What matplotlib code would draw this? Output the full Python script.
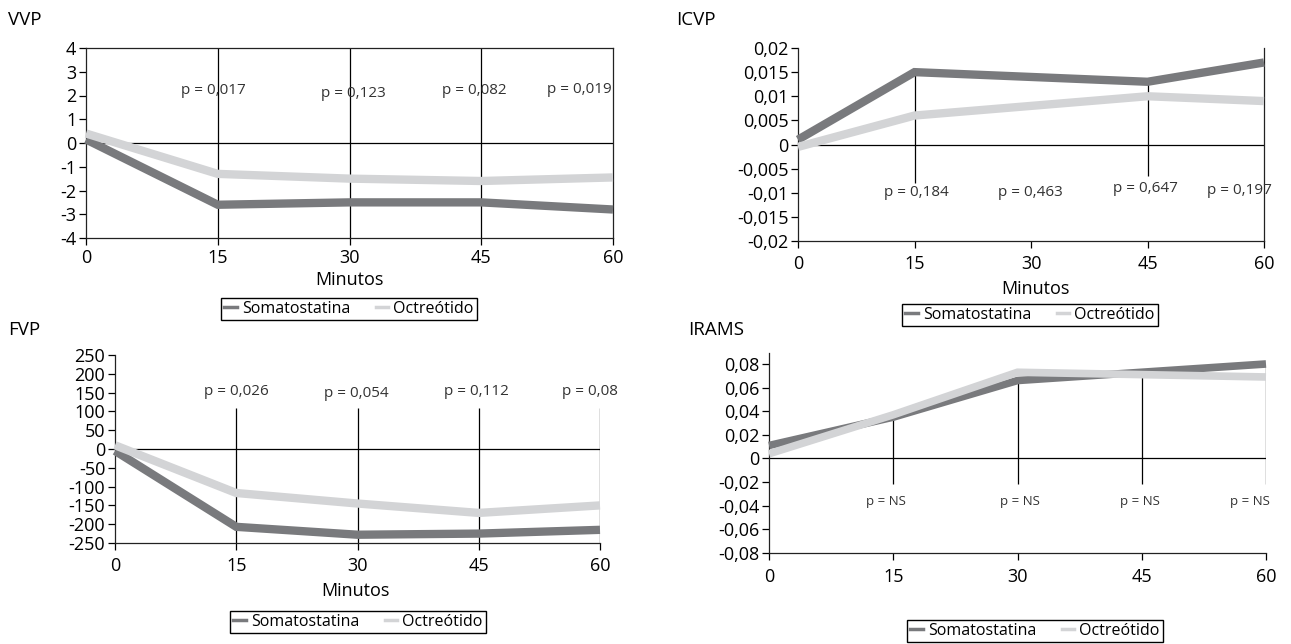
import numpy as np
import matplotlib
matplotlib.use('Agg')
import matplotlib.pyplot as plt
from matplotlib.lines import Line2D

plt.rcParams['font.family'] = ['Open Sans', 'DejaVu Sans']
plt.rcParams['font.size'] = 10

W, H = 1291, 644

minutos = [0, 15, 30, 45, 60]
x_labels = ['0', '15', '30', '45', '60']
series_names = ['Somatostatina', 'Octreótido']

# VVP
vvp_soma = [0.15, -2.6, -2.5, -2.5, -2.8]
vvp_octr = [0.4, -1.3, -1.5, -1.6, -1.45]
vvp_p = ['p = 0,017', 'p = 0,123', 'p = 0,082', 'p = 0,019']
vvp_yticks = [-4, -3, -2, -1, 0, 1, 2, 3, 4]

# ICVP
icvp_soma = [0.001, 0.015, 0.014, 0.013, 0.017]
icvp_octr = [-0.0005, 0.006, 0.008, 0.010, 0.009]
icvp_p = ['p = 0,184', 'p = 0,463', 'p = 0,647', 'p = 0,197']
icvp_yticks = [-0.02, -0.015, -0.01, -0.005, 0, 0.005, 0.01, 0.015, 0.02]

# FVP
fvp_soma = [-5, -207, -228, -225, -215]
fvp_octr = [10, -117, -145, -170, -150]
fvp_p = ['p = 0,026', 'p = 0,054', 'p = 0,112', 'p = 0,08']
fvp_yticks = [-250, -200, -150, -100, -50, 0, 50, 100, 150, 200, 250]

# IRAMS
irams_soma = [0.011, 0.035, 0.066, 0.073, 0.080]
irams_octr = [0.004, 0.037, 0.073, 0.071, 0.069]
irams_p = ['p = NS', 'p = NS', 'p = NS', 'p = NS']
irams_yticks = [-0.08, -0.06, -0.04, -0.02, 0, 0.02, 0.04, 0.06, 0.08]

dark = '#797a7d'
light = '#d3d4d6'
TICK_FS = 13
P_FS = 11


def fmt(v):
    return ('%g' % round(v, 4)).replace('.', ',')


def make_ax(l, r, t, b):
    return fig.add_axes([l / W, 1 - b / H, (r - l) / W, (b - t) / H])


def setup(ax, yticks, ylim, xpad):
    ax.set_xlim(0, 60)
    ax.set_ylim(*ylim)
    ax.set_xticks(minutos)
    ax.set_xticklabels(x_labels, fontsize=TICK_FS)
    ax.set_yticks(yticks)
    ax.set_yticklabels([fmt(v) for v in yticks], fontsize=TICK_FS)
    ax.tick_params(axis='y', direction='out', length=5, width=0.9, pad=2)
    ax.tick_params(axis='x', direction='out', length=5, width=0.9, pad=xpad)
    for s in ax.spines.values():
        s.set_linewidth(0.9)
        s.set_color('#222222')
    ax.axhline(0, color='black', lw=0.9, zorder=1)


def draw_series(ax, soma, octr, lw=6):
    ax.plot(minutos, soma, color=dark, lw=lw, solid_joinstyle='miter',
            solid_capstyle='butt', clip_on=False, zorder=3)
    ax.plot(minutos, octr, color=light, lw=lw, solid_joinstyle='miter',
            solid_capstyle='butt', clip_on=False, zorder=4)


def add_legend(cx, cy):
    handles = [Line2D([], [], color=dark, lw=2.5),
               Line2D([], [], color=light, lw=2.5)]
    fig.legend(handles, series_names, loc='center',
               bbox_to_anchor=(cx / W, 1 - cy / H), ncol=2, fontsize=11.5,
               frameon=True, fancybox=False, edgecolor='black',
               framealpha=1, handlelength=0.8, handletextpad=0.3,
               columnspacing=1.6, borderpad=0.2)


def label(x, y, txt, fs=13):
    fig.text(x / W, 1 - y / H, txt, fontsize=fs, ha='center', va='center')


fig = plt.figure(figsize=(W / 100, H / 100), dpi=100)

# ---- VVP ----
ax1 = make_ax(86, 613, 48, 238)
setup(ax1, vvp_yticks, (-4, 4), 3)
ax1.vlines([15, 30, 45], -4, 4, color='black', lw=0.9, zorder=1)
draw_series(ax1, vvp_soma, vvp_octr)
for xp, yp, txt in zip([14.5, 30.4, 44.2, 56.2], [2.23, 2.1, 2.23, 2.27], vvp_p):
    ax1.text(xp, yp, txt, ha='center', va='center', fontsize=P_FS, color='#333333')
label(349, 280, 'Minutos')
fig.text(8 / W, 1 - 20 / H, 'VVP', fontsize=13.5, va='center')
add_legend(349, 309)

# ---- ICVP ----
ax2 = make_ax(798, 1264, 48, 241)
setup(ax2, icvp_yticks, (-0.02, 0.02), 5)
ax2.spines['top'].set_visible(False)
ax2.vlines([15], -0.008, 0.0145, color='black', lw=0.9, zorder=1)
ax2.vlines([45], -0.0065, 0.013, color='black', lw=0.9, zorder=1)
draw_series(ax2, icvp_soma, icvp_octr)
for xp, yp, txt in zip([15.2, 29.9, 44.7, 56.9], [-0.0099, -0.0099, -0.0092, -0.0096], icvp_p):
    ax2.text(xp, yp, txt, ha='center', va='center', fontsize=P_FS, color='#333333')
label(1035, 289, 'Minutos')
fig.text(676 / W, 1 - 20 / H, 'ICVP', fontsize=13.5, va='center')
add_legend(1030, 315)

# ---- FVP ----
ax3 = make_ax(115, 600, 355, 543)
setup(ax3, fvp_yticks, (-250, 250), 5)
ax3.spines['top'].set_visible(False)
ax3.spines['right'].set_visible(False)
ax3.vlines([15, 30, 45, 60], -250, 110, color='black', lw=0.9, zorder=1)
draw_series(ax3, fvp_soma, fvp_octr)
for xp, yp, txt in zip([15, 29.8, 44.7, 58.7], [152, 148, 152, 152], fvp_p):
    ax3.text(xp, yp, txt, ha='center', va='center', fontsize=P_FS, color='#333333')
label(355, 591, 'Minutos')
fig.text(8 / W, 1 - 330 / H, 'FVP', fontsize=13.5, va='center')
add_legend(358, 622)

# ---- IRAMS ----
ax4 = make_ax(769, 1266, 353, 553)
setup(ax4, irams_yticks, (-0.08, 0.0893), 6)
ax4.spines['top'].set_visible(False)
ax4.spines['right'].set_visible(False)
for xv, top in zip([15, 30, 45, 60], [0.035, 0.066, 0.069, 0.080]):
    ax4.vlines(xv, -0.022, top, color='black', lw=0.9, zorder=1)
draw_series(ax4, irams_soma, irams_octr, lw=5.5)
for xp, txt in zip([14.1, 30.3, 44.8, 58.1], irams_p):
    ax4.text(xp, -0.036, txt, ha='center', va='center', fontsize=9.5, color='#333333')
fig.text(688 / W, 1 - 330 / H, 'IRAMS', fontsize=13.5, va='center')
add_legend(1035, 631)

fig.savefig('out.png', dpi=100)
